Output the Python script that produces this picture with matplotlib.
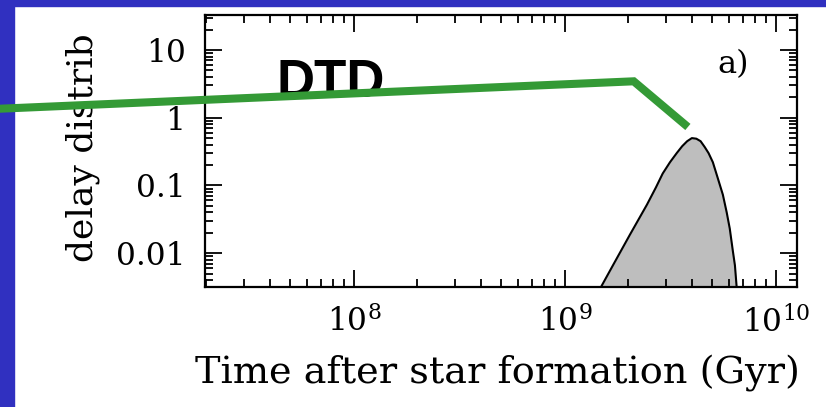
import matplotlib
matplotlib.use("Agg")
import matplotlib.pyplot as plt
from matplotlib.patches import Rectangle
from matplotlib.ticker import FixedLocator, FixedFormatter, LogLocator, LogFormatterMathtext, NullFormatter

# delay time distribution (gray hump)
delay_t = [1.30e9, 1.47e9, 1.69e9, 2.03e9, 2.45e9, 2.70e9, 2.91e9, 3.15e9, 3.39e9, 3.60e9,
           3.80e9, 4.00e9, 4.20e9, 4.40e9, 4.60e9, 4.80e9, 5.03e9, 5.30e9, 5.61e9,
           5.85e9, 6.05e9, 6.25e9, 6.40e9, 6.53e9, 6.60e9]
delay_y = [0.0015, 0.0030, 0.0066, 0.0185, 0.052, 0.093, 0.150, 0.22, 0.30, 0.38,
           0.45, 0.50, 0.49, 0.45, 0.37, 0.30, 0.22, 0.13, 0.073,
           0.040, 0.023, 0.011, 0.0066, 0.0030, 0.0015]

# hand-drawn DTD overlay (green)
dtd_t = [1.7e6, 2.12e9, 3.83e9]
dtd_y = [1.32, 3.45, 0.73]

y_ticks = [0.01, 0.1, 1, 10]
y_tick_labels = ["0.01", "0.1", "1", "10"]
x_ticks = [1e8, 1e9, 1e10]

plt.rcParams["mathtext.fontset"] = "dejavuserif"
plt.rcParams["font.family"] = "DejaVu Serif"

fig = plt.figure(figsize=(8.26, 4.07), dpi=100)
fig.patch.set_facecolor("white")

# blue slide frame on the left and top
blue = "#3030c0"
fig.add_artist(Rectangle((0, 0), 14 / 826, 1, transform=fig.transFigure, color=blue, zorder=0))
fig.add_artist(Rectangle((0, 1 - 6 / 407), 1, 6 / 407, transform=fig.transFigure, color=blue, zorder=0))

ax = fig.add_axes([205 / 826, 1 - 287 / 407, 592 / 826, 272 / 407])
ax.set_xscale("log")
ax.set_yscale("log")
ax.set_xlim(1.97e7, 1.26e10)
ax.set_ylim(10 ** -2.5, 10 ** 1.517)

ax.fill_between(delay_t, delay_y, 1e-4, color="#bebebe", lw=0)
ax.plot(delay_t, delay_y, color="black", lw=1.5, solid_joinstyle="round")

ax.xaxis.set_major_locator(FixedLocator(x_ticks))
ax.xaxis.set_major_formatter(LogFormatterMathtext())
ax.xaxis.set_minor_locator(LogLocator(base=10, subs=range(2, 10), numticks=20))
ax.xaxis.set_minor_formatter(NullFormatter())
ax.yaxis.set_major_locator(FixedLocator(y_ticks))
ax.yaxis.set_major_formatter(FixedFormatter(y_tick_labels))
ax.yaxis.set_minor_locator(LogLocator(base=10, subs=range(2, 10), numticks=20))
ax.yaxis.set_minor_formatter(NullFormatter())

ax.tick_params(which="both", direction="in", top=True, right=True, width=1.3, labelsize=22.5)
ax.tick_params(which="major", length=12)
ax.tick_params(which="minor", length=6)
ax.tick_params(axis="x", pad=14)
ax.tick_params(axis="y", pad=14)
for s in ax.spines.values():
    s.set_linewidth(1.6)

ax.set_xlabel("Time after star formation (Gyr)", fontsize=27.5)
ax.xaxis.set_label_coords(0.494, -0.25)
ax.set_ylabel("delay distrib", fontsize=26)
ax.yaxis.set_label_coords(-0.177, 0.511)

ax.text(717 / 826, 1 - 73 / 407, "a)", transform=fig.transFigure, fontsize=23,
        ha="left", va="baseline")
ax.text(277 / 826, 1 - 97 / 407, "DTD", transform=fig.transFigure, fontsize=38,
        fontweight="bold", family="Liberation Sans", ha="left", va="baseline", zorder=5)

ax.plot(dtd_t, dtd_y, color="#349a36", lw=5.8, clip_on=False, zorder=6,
        solid_capstyle="butt", solid_joinstyle="miter")

fig.savefig("out.png", dpi=100)
